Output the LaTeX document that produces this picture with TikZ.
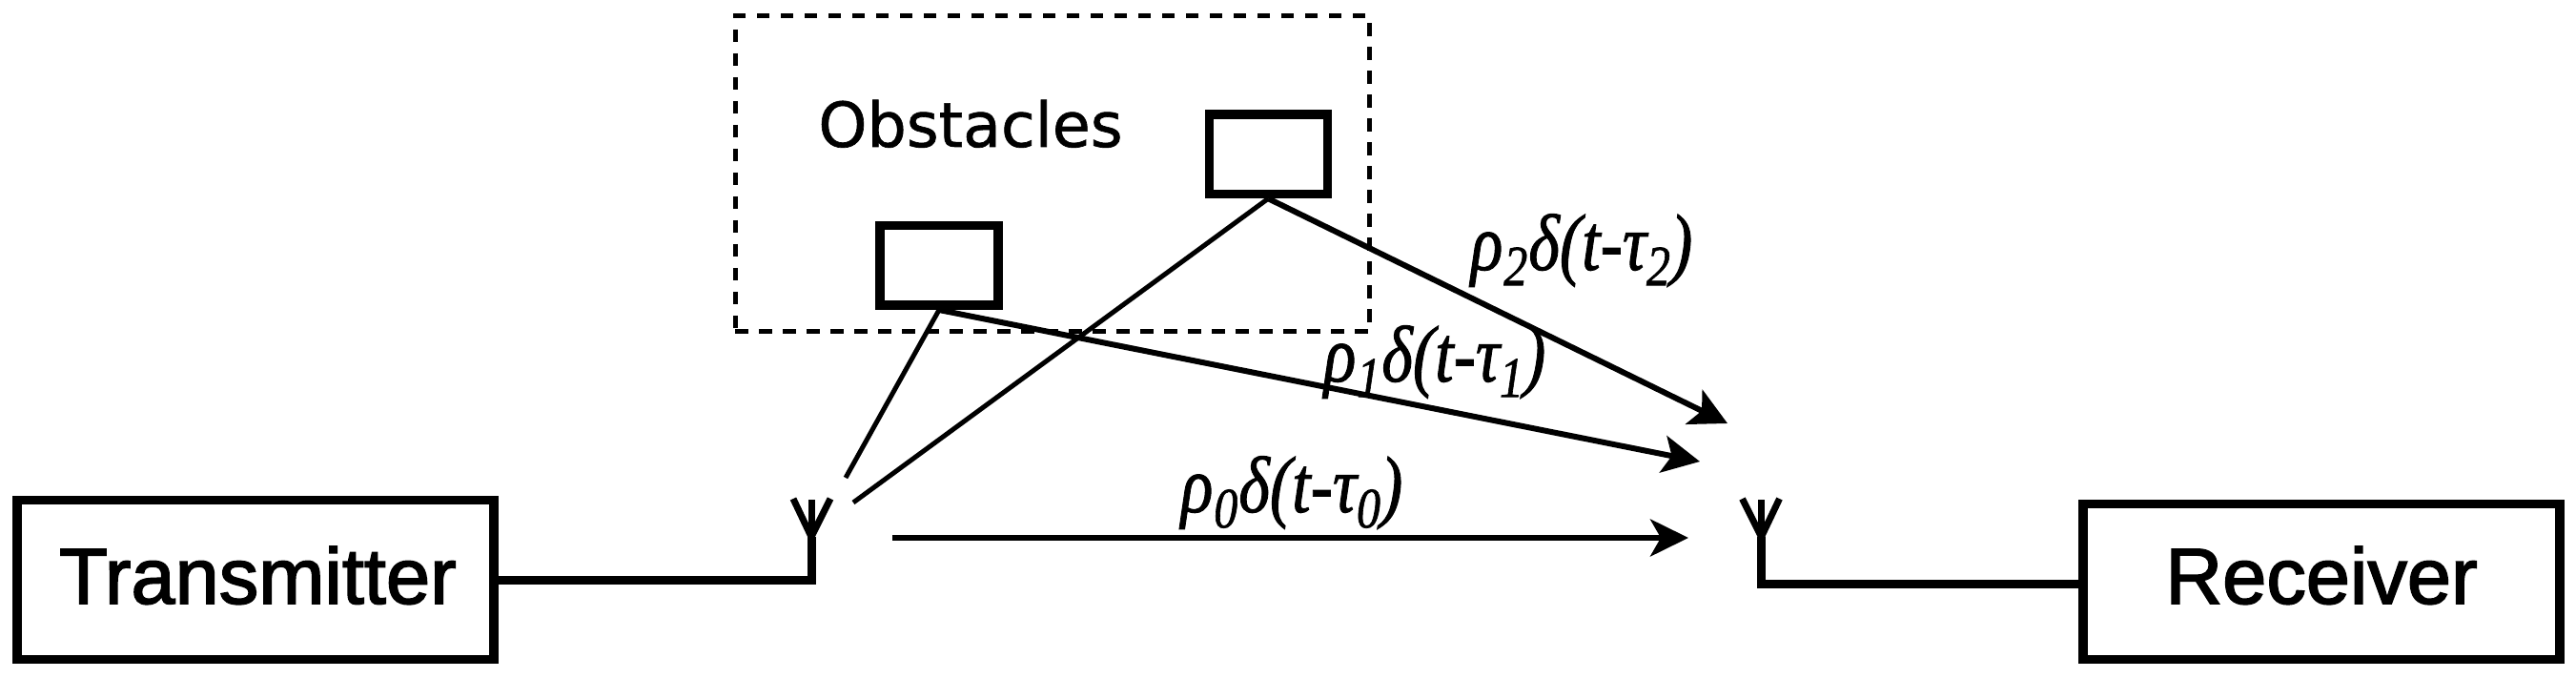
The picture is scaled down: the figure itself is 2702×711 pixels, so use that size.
\documentclass[tikz,border=0pt]{standalone}
\usepackage{fontspec}
\setmainfont[FakeBold=1.5,AutoFakeBold=1.5]{Liberation Sans}
\newfontfamily\blockfont[FakeBold=2]{Liberation Sans}
\newfontfamily\dejafont[FakeBold=1]{DejaVu Sans}
\newfontfamily\seriffont[ItalicFont=Liberation Serif Italic,ItalicFeatures={FakeBold=1.2}]{Liberation Serif}
\usetikzlibrary{arrows.meta}
\newcommand{\chanlabel}[1]{\scalebox{1}[1.2]{\seriffont\itshape\fontsize{70}{70}\selectfont ρ\kern1pt\raisebox{-13.5pt}{\fontsize{50}{50}\selectfont #1}\kern1pt δ(t-τ\raisebox{-13.5pt}{\fontsize{50}{50}\selectfont #1})}}
\tikzset{
  blockbox/.style={draw=black,line width=9.5pt,rectangle,inner sep=0pt,minimum width=500pt,font=\blockfont\fontsize{83}{83}\selectfont},
  obstaclebox/.style={draw=black,fill=white,line width=9.5pt,rectangle,inner sep=0pt,minimum width=124pt,minimum height=83.5pt},
  region/.style={draw=black,line width=5pt,rectangle,inner sep=0pt,dash pattern=on 13.5pt off 11.5pt},
  feed/.style={line width=9pt,miter limit=10},
  antarm/.style={line width=7pt},
  bounce/.style={line width=5pt},
  ray/.style={line width=6pt},
  lbl/.style={inner sep=0pt,anchor=base},
}
\begin{document}
\begin{tikzpicture}[x=1pt,y=-1pt]
\useasboundingbox (0,0) rectangle (2702,711);
% region and obstacles
\node[region,minimum width=665pt,minimum height=331pt] (reg) at (1103.5,182.5) {};
\node[inner sep=0pt,anchor=base,font=\dejafont\fontsize{65}{65}\selectfont] (obs) at (1018,154) {Obstacles};
\node[obstaclebox] (o2) at (1330.25,161.75) {};
\node[obstaclebox] (o1) at (985,278.5) {};
% blocks
\node[blockbox,minimum height=167pt,text height=61pt,text depth=11pt] (tx) at (268,608) {\hspace*{5pt}Transmitter};
\node[blockbox,minimum height=163pt,text height=60pt,text depth=14pt] (rx) at (2435,610) {Receiver};
% antennas
\coordinate (txant) at (851,563);
\coordinate (rxant) at (1847.5,563);
\coordinate (txl) at (832,523); \coordinate (txm) at (851,524); \coordinate (txr) at (871,523);
\coordinate (rxl) at (1827.5,523); \coordinate (rxm) at (1847.5,524); \coordinate (rxr) at (1866.5,523);
\coordinate (rxport) at (2180,612);
\draw[feed] (txant) |- (tx.east);
\draw[feed] (rxant) |- (rxport);
\foreach \a/\b in {txant/txl,txant/txm,txant/txr,rxant/rxl,rxant/rxm,rxant/rxr}
  \draw[antarm] (\a) -- (\b);
% free ends
\coordinate (e1) at (887,501);
\coordinate (e2) at (895,527);
\coordinate (s0) at (936,564);
\coordinate (t0) at (1771,564);
\coordinate (t1) at (1783,484);
\coordinate (t2) at (1812,444);
% rays
\draw[bounce] (o1.south) -- (e1);
\draw[bounce] (o2.south) -- (e2);
\draw[ray,-{Stealth[length=40pt,width=39pt,inset=11pt]}] (s0) -- (t0);
\draw[ray,-{Stealth[length=39pt,width=39pt,inset=9pt]}] (o1.south) -- (t1);
\draw[ray,-{Stealth[length=39pt,width=40pt,inset=9pt]}] (o2.south) -- (t2);
% labels
\node[lbl] (l0) at (1355,537) {\chanlabel{0}};
\node[lbl] (l1) at (1505,400) {\chanlabel{1}};
\node[lbl] (l2) at (1659,283) {\chanlabel{2}};
\end{tikzpicture}
\end{document}
